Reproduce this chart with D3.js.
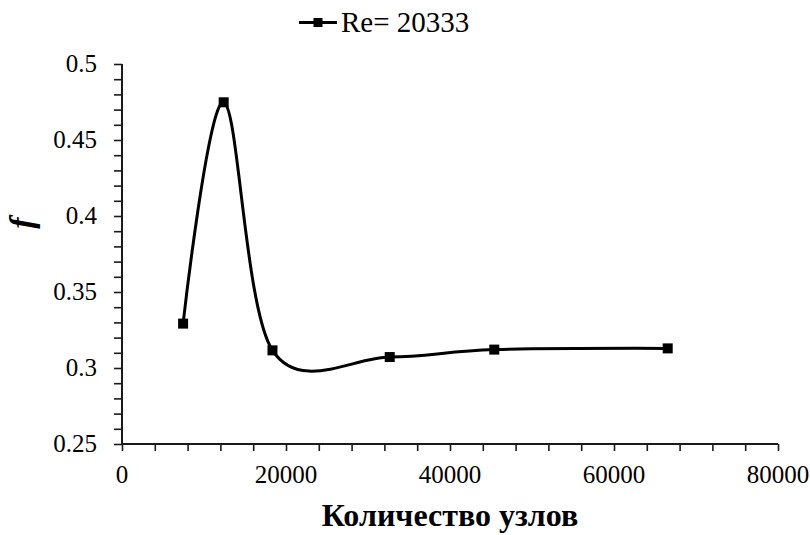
<!DOCTYPE html>
<html>
<head>
<meta charset="utf-8">
<script src="https://cdn.jsdelivr.net/npm/d3@7"></script>
<style>
  html, body { margin: 0; padding: 0; background: #fff; }
  svg { display: block; }
</style>
</head>
<body>
<svg id="chart" width="810" height="535"></svg>
<script>
// Mesh-independence study: friction factor vs. number of grid nodes
const seriesName = "Re= 20333";
const nodes = [7450, 12400, 18350, 32650, 45400, 66550];
const fValues = [0.3292, 0.4748, 0.3116, 0.3072, 0.3121, 0.3129];
const xTickLabels = [0, 20000, 40000, 60000, 80000];
const yTickLabels = [0.25, 0.3, 0.35, 0.4, 0.45, 0.5];
const xTitle = "Количество узлов";
const yTitle = "f";

const serif = '"Times New Roman", "Liberation Serif", Tinos, serif';

const svg = d3.select("#chart");
const margin = { left: 122, right: 32, top: 64, bottom: 91 };
const W = 810, H = 535;

const x = d3.scaleLinear().domain([0, 80000]).range([margin.left, W - margin.right]);
const y = d3.scaleLinear().domain([0.25, 0.5]).range([H - margin.bottom, margin.top]);

const axisColor = "#1a1a1a";

// Minor tick marks (every 4000 nodes, every 0.01 in f)
const xMinor = d3.range(0, 80001, 4000);
const yMinor = d3.range(25, 51, 1).map(v => v / 100);

const gx = svg.append("g").attr("transform", `translate(0,${y(0.25)})`);
gx.call(d3.axisBottom(x).tickValues(xMinor).tickSize(7).tickFormat(""));
gx.select(".domain").remove();
gx.selectAll("line").attr("stroke", axisColor).attr("stroke-width", 1.6);

const gy = svg.append("g").attr("transform", `translate(${x(0)},0)`);
gy.call(d3.axisLeft(y).tickValues(yMinor).tickSize(8).tickFormat(""));
gy.select(".domain").remove();
gy.selectAll("line").attr("stroke", axisColor).attr("stroke-width", 1.6);

// Axis lines
svg.append("line")
  .attr("x1", x(0)).attr("x2", x(80000))
  .attr("y1", y(0.25)).attr("y2", y(0.25))
  .attr("stroke", axisColor).attr("stroke-width", 2);
svg.append("line")
  .attr("x1", x(0)).attr("x2", x(0))
  .attr("y1", y(0.25) + 1).attr("y2", y(0.5))
  .attr("stroke", axisColor).attr("stroke-width", 2);

// Tick labels
svg.append("g").selectAll("text")
  .data(xTickLabels).join("text")
  .attr("x", d => x(d)).attr("y", y(0.25) + 39)
  .attr("text-anchor", "middle")
  .style("font-family", serif)
  .style("font-size", "25px")
  .text(d => d);

svg.append("g").selectAll("text")
  .data(yTickLabels).join("text")
  .attr("x", x(0) - 25).attr("y", d => y(d) + 8)
  .attr("text-anchor", "end")
  .style("font-family", serif)
  .style("font-size", "25px")
  .text(d => d);

// Axis titles
svg.append("text")
  .attr("x", (x(0) + x(80000)) / 2).attr("y", 526)
  .attr("text-anchor", "middle")
  .style("font-family", serif)
  .style("font-size", "32px").style("font-weight", "bold")
  .text(xTitle);

svg.append("text")
  .attr("transform", "translate(33,223) rotate(-90)")
  .attr("text-anchor", "middle")
  .style("font-family", serif)
  .style("font-size", "34px").style("font-style", "italic").style("font-weight", "bold")
  .text(yTitle);

// Smoothed series line
const pts = nodes.map((n, i) => [n, fValues[i]]);
const line = d3.line()
  .x(d => x(d[0])).y(d => y(d[1]))
  .curve(d3.curveCatmullRom.alpha(0));
svg.append("path")
  .datum(pts)
  .attr("d", line)
  .attr("fill", "none")
  .attr("stroke", "#000")
  .attr("stroke-width", 3);

// Square markers
const ms = 10;
svg.append("g").selectAll("rect")
  .data(pts).join("rect")
  .attr("x", d => x(d[0]) - ms / 2).attr("y", d => y(d[1]) - ms / 2)
  .attr("width", ms).attr("height", ms)
  .attr("fill", "#000");

// Legend
const lg = svg.append("g").attr("transform", "translate(299,22.5)");
lg.append("line").attr("x1", 0).attr("x2", 38).attr("y1", 0).attr("y2", 0)
  .attr("stroke", "#000").attr("stroke-width", 3);
lg.append("rect").attr("x", 19 - 4.5).attr("y", -4.5).attr("width", 9).attr("height", 9).attr("fill", "#000");
lg.append("text").attr("x", 42).attr("y", 9.5)
  .style("font-family", serif)
  .style("font-size", "29px")
  .text(seriesName);
</script>
</body>
</html>
